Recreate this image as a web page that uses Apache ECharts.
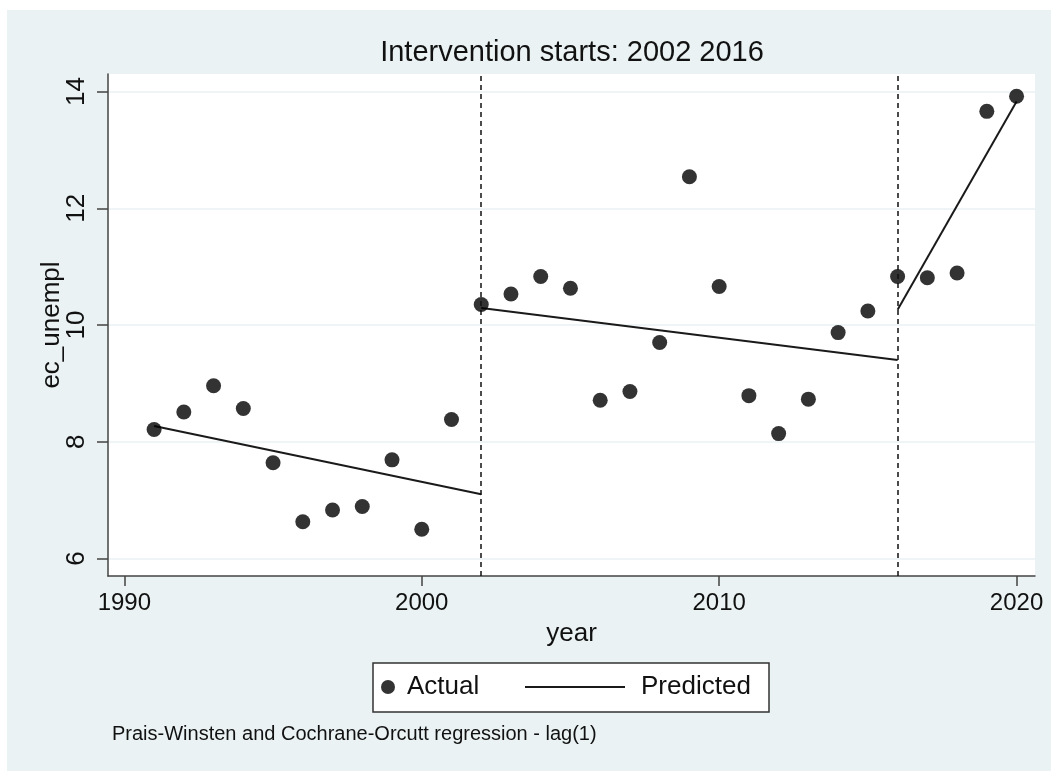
<!DOCTYPE html>
<html>
<head>
<meta charset="utf-8">
<script src="https://cdn.jsdelivr.net/npm/echarts@6/dist/echarts.min.js"></script>
<style>
html,body{margin:0;padding:0;background:#fff;}
#c{position:absolute;left:7px;top:10px;width:1044px;height:761px;}
</style>
</head>
<body>
<div id="c"></div>
<script>
const years = [1991,1992,1993,1994,1995,1996,1997,1998,1999,2000,2001,2002,2003,2004,2005,2006,2007,2008,2009,2010,2011,2012,2013,2014,2015,2016,2017,2018,2019,2020];
const actual = [8.21,8.51,8.96,8.57,7.64,6.63,6.83,6.89,7.69,6.50,8.38,10.35,10.53,10.83,10.63,8.71,8.86,9.70,12.54,10.66,8.79,8.14,8.73,9.87,10.24,10.83,10.81,10.89,13.66,13.92];
const predYears1 = [1991, 2002];
const predVals1 = [8.27, 7.10];
const predYears2 = [2002, 2016];
const predVals2 = [10.29, 9.40];
const predYears3 = [2016, 2020];
const predVals3 = [10.26, 13.83];
const interventions = [2002, 2016];
const xTicks = [1990, 2000, 2010, 2020];
const yTicks = [6, 8, 10, 12, 14];

const FONT = 'Liberation Sans, Arial, sans-serif';
const chart = echarts.init(document.getElementById('c'));
const pairs = (xs, ys) => xs.map((x, i) => [x, ys[i]]);
const predStyle = {color: '#1a1a1a', width: 2};

chart.setOption({
  backgroundColor: '#EAF2F3',
  animation: false,
  title: [
    {text: 'Intervention starts: 2002 2016', left: 560, textAlign: 'center', top: 23,
     textStyle: {fontFamily: FONT, fontSize: 29, fontWeight: 'normal', color: '#111'}},
    {text: 'Prais-Winsten and Cochrane-Orcutt regression - lag(1)', left: 100, top: 709,
     textStyle: {fontFamily: FONT, fontSize: 20, fontWeight: 'normal', color: '#111'}}
  ],
  graphic: [
    {type: 'rect', shape: {x: 366, y: 653, width: 396, height: 49},
     style: {fill: '#fff', stroke: '#333', lineWidth: 1.5}, z: 0}
  ],
  legend: [
    {data: [{name: 'Actual', icon: 'circle'}], left: 374, top: 664, padding: 0,
     itemWidth: 28, itemHeight: 14, z: 5,
     textStyle: {fontFamily: FONT, fontSize: 26, color: '#111'}},
    {data: [{name: 'Predicted', icon: 'path://M0,0H100V2H0Z', itemStyle: {color: '#1a1a1a', borderWidth: 0}}],
     left: 518, top: 664, padding: 0,
     itemWidth: 100, itemHeight: 2, z: 5,
     textStyle: {fontFamily: FONT, fontSize: 26, color: '#111', padding: [0,0,0,11]}}
  ],
  grid: {left: 101, top: 64, right: 16, bottom: 195, show: true, backgroundColor: '#fff', borderWidth: 0},
  xAxis: {
    type: 'value', min: 1989.45, max: 2020.62,
    name: 'year', nameLocation: 'middle', nameGap: 45,
    nameTextStyle: {fontFamily: FONT, fontSize: 26, color: '#111'},
    axisLine: {lineStyle: {color: '#444', width: 1.5}},
    axisTick: {show: true, length: 10, customValues: xTicks, lineStyle: {color: '#444', width: 1.5}},
    axisLabel: {customValues: xTicks, formatter: v => String(v), fontFamily: FONT, fontSize: 24, color: '#111', margin: 15},
    splitLine: {show: false}
  },
  yAxis: {
    type: 'value', min: 5.70, max: 14.30,
    name: 'ec_unempl', nameLocation: 'middle', nameGap: 43, nameMoveOverlap: false,
    nameTextStyle: {fontFamily: FONT, fontSize: 26, color: '#111'},
    axisLine: {show: true, lineStyle: {color: '#444', width: 1.5}},
    axisTick: {show: true, length: 11, customValues: yTicks, lineStyle: {color: '#444', width: 1.5}},
    axisLabel: {customValues: yTicks, formatter: v => String(v), rotate: 90, fontFamily: FONT, fontSize: 26, color: '#111', margin: 18},
    splitLine: {show: true, customValues: yTicks, lineStyle: {color: '#EAF2F3', width: 1.5}}
  },
  series: [
    {name: 'Actual', type: 'scatter', data: pairs(years, actual), symbol: 'circle', symbolSize: 15,
     itemStyle: {color: '#000'}, z: 3,
     markLine: {silent: true, symbol: ['none', 'none'], label: {show: false},
       lineStyle: {color: '#111', width: 1.5, type: [5, 4]},
       data: interventions.map(v => ({xAxis: v}))}},
    {name: 'Predicted', type: 'line', data: pairs(predYears1, predVals1), symbol: 'none', lineStyle: predStyle, itemStyle: {color: '#1a1a1a'}},
    {name: 'Predicted', type: 'line', data: pairs(predYears2, predVals2), symbol: 'none', lineStyle: predStyle, itemStyle: {color: '#1a1a1a'}},
    {name: 'Predicted', type: 'line', data: pairs(predYears3, predVals3), symbol: 'none', lineStyle: predStyle, itemStyle: {color: '#1a1a1a'}}
  ]
});
</script>
</body>
</html>
